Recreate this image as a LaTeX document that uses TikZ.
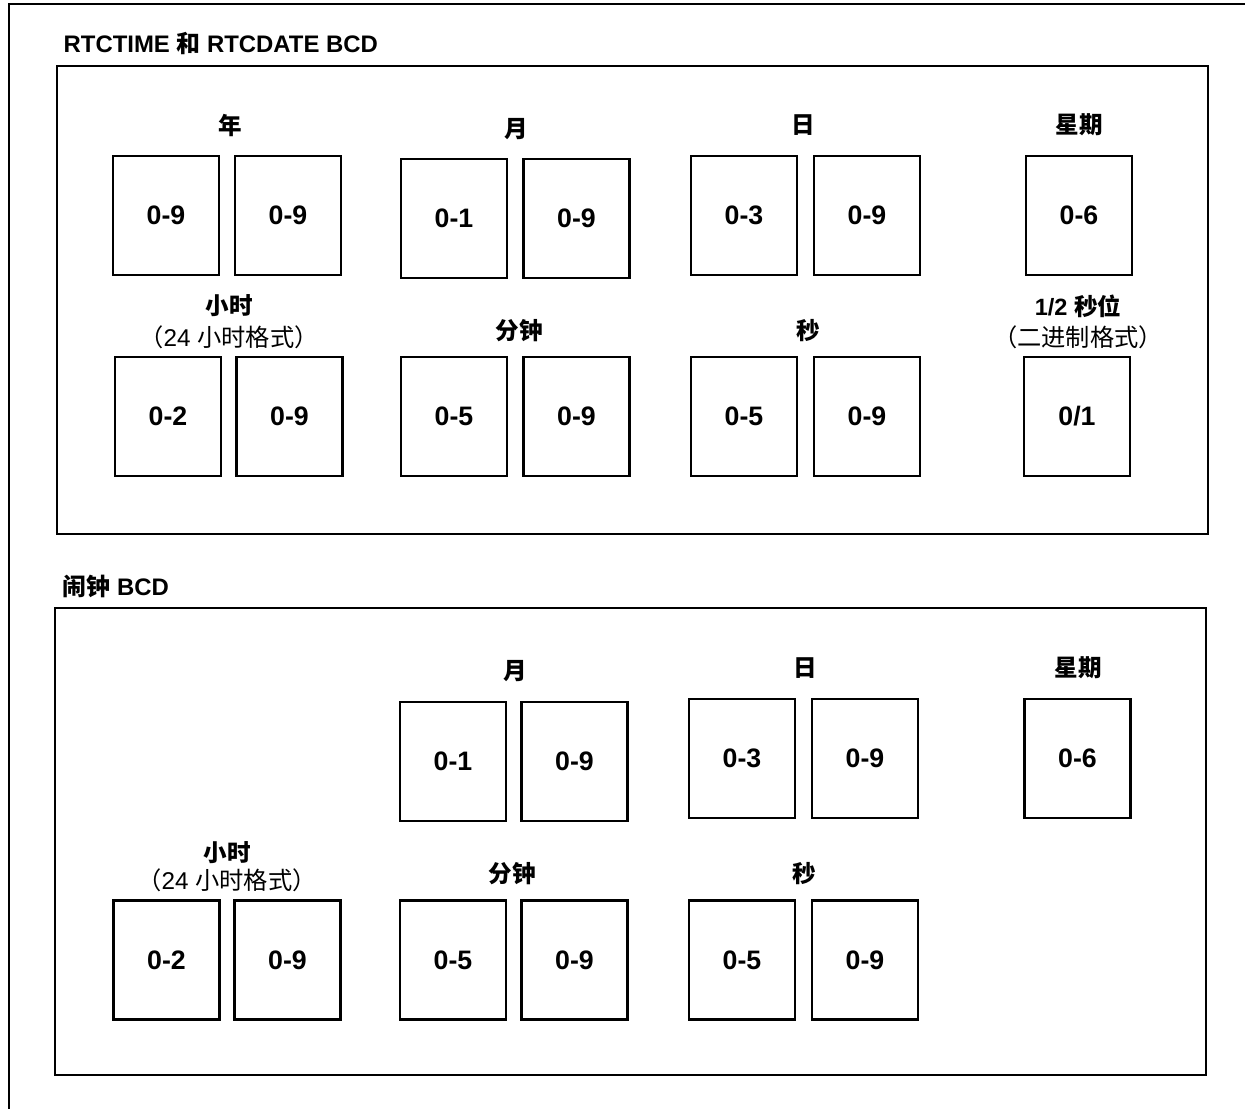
\documentclass[tikz,border=0pt]{standalone}
\usepackage{fontspec}
\setmainfont{Liberation Sans}
\newfontfamily\cjk{Noto Sans CJK SC}
\usetikzlibrary{positioning}
\newcommand{\zh}[1]{{\cjk #1}}

\begin{document}
\begin{tikzpicture}[x=0.1mm, y=-0.1mm,
  frameline/.style={line width=0.6pt},
  digitbox/.style={draw, line width=0.6pt, minimum width=10.6mm, minimum height=11.9mm,
    inner sep=0pt, font=\fontsize{7.6}{9}\selectfont\bfseries},
  fieldlbl/.style={inner sep=0pt, font=\fontsize{6.7}{7}\selectfont\bfseries},
  sublbl/.style={inner sep=0pt, font=\fontsize{6.9}{7}\selectfont},
  grouptitle/.style={inner sep=0pt, anchor=west, font=\fontsize{6.8}{7}\selectfont\bfseries}]
  \useasboundingbox (0,0) rectangle (1245,1109);

  % outer frame (cut at the page edge)
  \draw[frameline] (1245,4) -- (9,4) -- (9,1109);

  % ---------------- RTCTIME / RTCDATE ----------------
  \node[grouptitle] (ttltime) at (63,43) {RTCTIME \zh{和} RTCDATE BCD};
  \draw[frameline] (57,66) rectangle (1208,534);

  % year
  \node[fieldlbl] (lblyear) at (230,125) {\zh{年}};
  \node[digitbox] (yearhi) at (166,215.5) {0-9};
  \node[digitbox] (yearlo) at (288,215.5) {0-9};
  % month
  \node[fieldlbl] (lblmon) at (516,129) {\zh{月}};
  \node[digitbox] (monhi) at (454,218.5) {0-1};
  \node[digitbox] (monlo) at (576.5,218.5) {0-9};
  % day
  \node[fieldlbl] (lblday) at (803,125) {\zh{日}};
  \node[digitbox] (dayhi) at (744,215.5) {0-3};
  \node[digitbox] (daylo) at (867,215.5) {0-9};
  % weekday
  \node[fieldlbl] (lblwday) at (1079,125) {\zh{星期}};
  \node[digitbox] (wday) at (1079,215.5) {0-6};

  % hour
  \node[fieldlbl] (lblhour) at (229,306) {\zh{小时}};
  \node[sublbl] (subhour) at (229,337) {\zh{（}24 \zh{小时格式）}};
  \node[digitbox] (hourhi) at (168,416.5) {0-2};
  \node[digitbox] (hourlo) at (289.5,416.5) {0-9};
  % minute
  \node[fieldlbl] (lblmin) at (519,331) {\zh{分钟}};
  \node[digitbox] (minhi) at (454,416.5) {0-5};
  \node[digitbox] (minlo) at (576.5,416.5) {0-9};
  % second
  \node[fieldlbl] (lblsec) at (808,331) {\zh{秒}};
  \node[digitbox] (sechi) at (744,416.5) {0-5};
  \node[digitbox] (seclo) at (867,416.5) {0-9};
  % half second
  \node[fieldlbl] (lblhalf) at (1078,306) {1/2 \zh{秒位}};
  \node[sublbl] (subhalf) at (1078,337) {\zh{（二进制格式）}};
  \node[digitbox] (halfsec) at (1077,416.5) {0/1};

  % ---------------- alarm ----------------
  \node[grouptitle] (ttlalarm) at (62,586) {\zh{闹钟} BCD};
  \draw[frameline] (55,608) rectangle (1206,1075);

  % month
  \node[fieldlbl] (almlblmon) at (515,671) {\zh{月}};
  \node[digitbox] (almmonhi) at (453,761.5) {0-1};
  \node[digitbox] (almmonlo) at (574.5,761.5) {0-9};
  % day
  \node[fieldlbl] (almlblday) at (805,668) {\zh{日}};
  \node[digitbox] (almdayhi) at (742,758.5) {0-3};
  \node[digitbox] (almdaylo) at (865,758.5) {0-9};
  % weekday
  \node[fieldlbl] (almlblwday) at (1078,668) {\zh{星期}};
  \node[digitbox] (almwday) at (1077.5,758.5) {0-6};

  % hour
  \node[fieldlbl] (almlblhour) at (227,853) {\zh{小时}};
  \node[sublbl] (almsubhour) at (227,880) {\zh{（}24 \zh{小时格式）}};
  \node[digitbox] (almhourhi) at (166.5,960) {0-2};
  \node[digitbox] (almhourlo) at (287.5,960) {0-9};
  % minute
  \node[fieldlbl] (almlblmin) at (512,874) {\zh{分钟}};
  \node[digitbox] (almminhi) at (453,960) {0-5};
  \node[digitbox] (almminlo) at (574.5,960) {0-9};
  % second
  \node[fieldlbl] (almlblsec) at (804,874) {\zh{秒}};
  \node[digitbox] (almsechi) at (742,960) {0-5};
  \node[digitbox] (almseclo) at (865,960) {0-9};
\end{tikzpicture}
\end{document}
